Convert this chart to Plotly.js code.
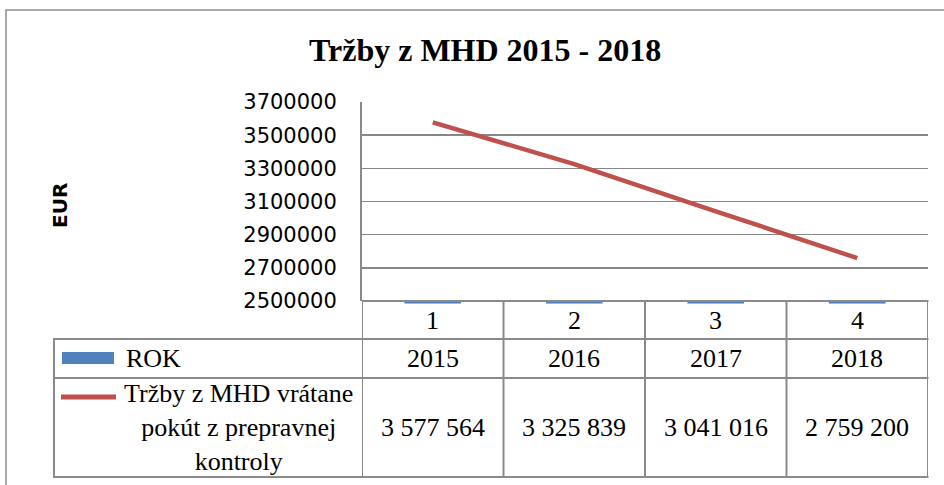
<!DOCTYPE html>
<html>
<head>
<meta charset="utf-8">
<script src="https://cdn.plot.ly/plotly-3.0.1.min.js"></script>
<style>html,body{margin:0;padding:0;background:#fff;}#chart{width:944px;height:485px;}</style>
</head>
<body>
<div id="chart"></div>
<script>
// ---- data ----
const categories = ['1', '2', '3', '4'];
const years = [2015, 2016, 2017, 2018];
const revenue = [3577564, 3325839, 3041016, 2759200];
const barName = 'ROK';
const lineName = 'Tržby z MHD vrátane<br>pokút z prepravnej<br>kontroly';
const chartTitle = 'Tržby z MHD 2015 - 2018';
const yTitle = 'EUR';

// ---- geometry helpers (pixel -> paper) ----
const W = 944, H = 485;
const M = {l: 362, r: 16, t: 102, b: 180};
const PW = W - M.l - M.r, PH = H - M.t - M.b;
const px = v => (v - M.l) / PW;
const py = v => (H - M.b - v) / PH;

const fmt = v => Math.round(v).toString().replace(/\B(?=(\d{3})+(?!\d))/g, ' ');

const serif = 'Liberation Serif, Times New Roman, serif';
const gridC = '#878787';
const tableC = '#8a8a8a';
const TS = 26;

const traces = [
  {
    type: 'bar', x: categories, y: years, name: barName, yaxis: 'y2',
    marker: {color: '#4F81BD'}, width: 0.4, showlegend: false
  },
  {
    type: 'scatter', mode: 'lines', x: categories, y: revenue, name: 'Tržby',
    line: {color: '#C0504D', width: 4.5}, showlegend: false
  }
];

const shapes = [];
const hl = (x0, x1, y, c, w) => shapes.push({type: 'line', xref: 'paper', yref: 'paper',
  x0: px(x0), x1: px(x1), y0: py(y), y1: py(y), line: {color: c, width: w}});
// outer chart border
shapes.push({type: 'rect', xref: 'paper', yref: 'paper', x0: px(6), x1: px(990), y0: py(10), y1: py(520),
  line: {color: '#8c8c8c', width: 1.5}, fillcolor: 'rgba(0,0,0,0)'});
// table horizontal lines
hl(362, 928.5, 301, tableC, 2);
hl(53, 928.5, 339, tableC, 2);
hl(53, 928.5, 378, tableC, 2);
hl(53, 928.5, 477, tableC, 2);
// table vertical lines at category boundaries
for (let k = 0; k <= categories.length; k++) {
  shapes.push({type: 'line', xref: 'x', yref: 'paper', x0: k - 0.5, x1: k - 0.5,
    y0: py(301), y1: py(477), line: {color: tableC, width: 2}});
}
shapes.push({type: 'line', xref: 'paper', yref: 'paper', x0: px(54), x1: px(54),
  y0: py(339), y1: py(477), line: {color: tableC, width: 2}});
// legend keys
shapes.push({type: 'rect', xref: 'paper', yref: 'paper', x0: px(62), x1: px(114), y0: py(352), y1: py(364),
  fillcolor: '#4F81BD', line: {width: 0}});
shapes.push({type: 'line', xref: 'paper', yref: 'paper', x0: px(61), x1: px(116), y0: py(397), y1: py(397),
  line: {color: '#C0504D', width: 5}});

const annotations = [
  {text: '<b>' + chartTitle + '</b>', xref: 'paper', yref: 'paper', x: px(485), y: py(50),
   xanchor: 'center', yanchor: 'middle', showarrow: false,
   font: {family: serif, size: 32, color: '#000'}},
  {text: '<b>' + yTitle + '</b>', xref: 'paper', yref: 'paper', x: px(60), y: py(206), textangle: -90,
   xanchor: 'center', yanchor: 'middle', showarrow: false,
   font: {family: 'DejaVu Sans, sans-serif', size: 20, color: '#000'}},
  {text: barName, xref: 'paper', yref: 'paper', x: px(124), y: py(358), xanchor: 'left', yanchor: 'middle',
   showarrow: false, font: {family: serif, size: TS, color: '#000'}},
  {text: lineName, xref: 'paper', yref: 'paper', x: px(238), y: py(427), xanchor: 'center', yanchor: 'middle',
   align: 'center', showarrow: false, font: {family: serif, size: TS, color: '#000'}}
];
categories.forEach((c, i) => {
  annotations.push({text: c, xref: 'x', yref: 'paper', x: i, y: py(320), xanchor: 'center', yanchor: 'middle',
    showarrow: false, font: {family: serif, size: TS, color: '#000'}});
  annotations.push({text: String(years[i]), xref: 'x', yref: 'paper', x: i, y: py(358), xanchor: 'center',
    yanchor: 'middle', showarrow: false, font: {family: serif, size: TS, color: '#000'}});
  annotations.push({text: fmt(revenue[i]), xref: 'x', yref: 'paper', x: i, y: py(427), xanchor: 'center',
    yanchor: 'middle', showarrow: false, font: {family: serif, size: TS, color: '#000'}});
});

const layout = {
  width: W, height: H, margin: M,
  paper_bgcolor: '#fff', plot_bgcolor: '#fff',
  showlegend: false,
  xaxis: {type: 'category', range: [-0.5, categories.length - 0.5], showticklabels: false,
    showgrid: false, zeroline: false, showline: false, ticks: '', fixedrange: true},
  yaxis: {domain: [py(301), 1], range: [2500000, 3700000], dtick: 200000, tick0: 2500000,
    tickformat: 'd', showgrid: true, gridcolor: gridC, gridwidth: 1.5,
    showline: true, linecolor: tableC, linewidth: 2, zeroline: false, ticks: '',
    ticklabelstandoff: 19,
    tickfont: {family: 'DejaVu Sans, sans-serif', size: 21, color: '#000'}, fixedrange: true},
  yaxis2: {domain: [py(303.8), py(301.6)], range: [0, 2050], visible: false, anchor: 'x', fixedrange: true},
  shapes: shapes,
  annotations: annotations
};

Plotly.newPlot('chart', traces, layout, {staticPlot: true, displayModeBar: false});
</script>
</body>
</html>
